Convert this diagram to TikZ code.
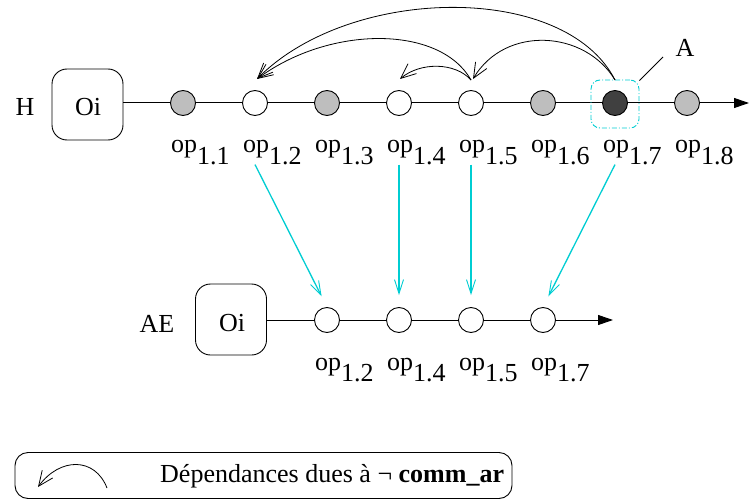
\documentclass[tikz,border=0pt]{standalone}
\usepackage{fontspec}
\setmainfont{Liberation Serif}
\usetikzlibrary{arrows.meta}
\definecolor{tq}{RGB}{0,205,210}
\definecolor{lg}{RGB}{190,190,190}
\definecolor{dg}{RGB}{64,64,64}
\tikzset{
  opc/.style={circle, draw, line width=0.9pt, minimum size=25pt, inner sep=0pt, fill=white},
  oibox/.style={draw, line width=0.9pt, rounded corners=15pt, minimum width=71pt, minimum height=71pt, inner sep=0pt},
  lab/.style={anchor=base west, inner sep=0pt},
  txt/.style={anchor=base, inner sep=0pt},
  dep/.style={line width=0.8pt, -{Straight Barb[length=15pt,width=13pt,line width=0.8pt]}},
  cy/.style={tq, line width=1.3pt, -{Straight Barb[length=14pt,width=9pt,line width=0.9pt]}},
  axis/.style={line width=1pt},
  axisend/.style={line width=1pt, -{Triangle[length=15pt,width=10pt]}},
}
\newcommand{\opl}[1]{op\raisebox{-11pt}{#1}}
\begin{document}
\begin{tikzpicture}[x=1pt,y=-1pt, font=\fontsize{26}{31}\selectfont]
\useasboundingbox (0,0) rectangle (749,500);

% ---- H row ----
\node[txt] (H) at (25,116) {H};
\node[oibox] (oiH) at (87.5,104.5) {};
\node[txt] (oiHt) at (88,116) {Oi};
\node[opc, fill=lg] (h1) at (183,103) {};
\node[opc] (h2) at (255,103) {};
\node[opc, fill=lg] (h3) at (327,103) {};
\node[opc] (h4) at (399,103) {};
\node[opc] (h5) at (471,103) {};
\node[opc, fill=lg] (h6) at (543,103) {};
\node[opc, fill=dg] (h7) at (615,103) {};
\node[opc, fill=lg] (h8) at (687,103) {};
\coordinate (hend) at (749,103);

\draw[axis] (oiH.east |- h1) -- (h1) -- (h2) -- (h3) -- (h4) -- (h5) -- (h6) -- (h7) -- (h8);
\draw[axisend] (h8) -- (hend);

\node[lab] (lh1) at (171,153) {\opl{1.1}};
\node[lab] (lh2) at (243,153) {\opl{1.2}};
\node[lab] (lh3) at (315,153) {\opl{1.3}};
\node[lab] (lh4) at (387,153) {\opl{1.4}};
\node[lab] (lh5) at (459,153) {\opl{1.5}};
\node[lab] (lh6) at (531,153) {\opl{1.6}};
\node[lab] (lh7) at (603,153) {\opl{1.7}};
\node[lab] (lh8) at (675,153) {\opl{1.8}};

% region A
\node[draw=tq, dash pattern=on 5pt off 2pt on 1pt off 2pt, line width=0.9pt, rounded corners=9pt, minimum size=48pt, inner sep=0pt] (Abox) at (615,104) {};
\node[txt] (A) at (685,57) {A};
\coordinate (Aline) at (663,57);
\draw[line width=0.8pt] (Abox.north east) ++(0,1) -- (Aline);

% dependency arcs
\coordinate (t7) at (615,80);
\coordinate (t5) at (471,80);
\coordinate (e2) at (257,79);
\coordinate (e5) at (473,79);
\coordinate (e4) at (400,79);
\draw[dep] (t7) .. controls (565,-18) and (350,-15) .. (e2);
\draw[dep] (t5) .. controls (440,25) and (330,25) .. (e2);
\draw[dep] (t7) .. controls (585,30) and (505,25) .. (e5);
\draw[dep] (t5) .. controls (455,62) and (420,62) .. (e4);

% ---- AE row ----
\node[txt] (AE) at (157,332) {AE};
\node[oibox] (oiA) at (231,319.5) {};
\node[txt] (oiAt) at (232,331) {Oi};
\node[opc] (a2) at (327,320) {};
\node[opc] (a4) at (399,320) {};
\node[opc] (a5) at (471,320) {};
\node[opc] (a7) at (543,320) {};
\coordinate (aend) at (613,320);
\draw[axis] (oiA.east |- a2) -- (a2) -- (a4) -- (a5) -- (a7);
\draw[axisend] (a7) -- (aend);

\node[lab] (la2) at (315,370) {\opl{1.2}};
\node[lab] (la4) at (387,370) {\opl{1.4}};
\node[lab] (la5) at (459,370) {\opl{1.5}};
\node[lab] (la7) at (531,370) {\opl{1.7}};

% cyan projections
\draw[cy, shorten >=12pt] (lh2.south -| h2) -- (a2.north);
\draw[cy, shorten >=12pt] (lh4.south -| h4) -- (a4.north);
\draw[cy, shorten >=12pt] (lh5.south -| h5) -- (a5.north);
\draw[cy, shorten >=12pt] (lh7.south -| h7) -- (a7.north);

% ---- legend ----
\node[draw, line width=0.9pt, rounded corners=13pt, minimum width=497pt, minimum height=46pt, inner sep=0pt] (leg) at (263.5,475.5) {};
\coordinate (lg1) at (107,488);
\coordinate (lg2) at (38,487);
\draw[dep] (lg1) .. controls (95,457) and (60,457) .. (lg2);
\node[anchor=west, inner sep=0pt] (legt) at (160,476) {Dépendances dues à ¬ \textbf{comm\_ar}};
\end{tikzpicture}
\end{document}
